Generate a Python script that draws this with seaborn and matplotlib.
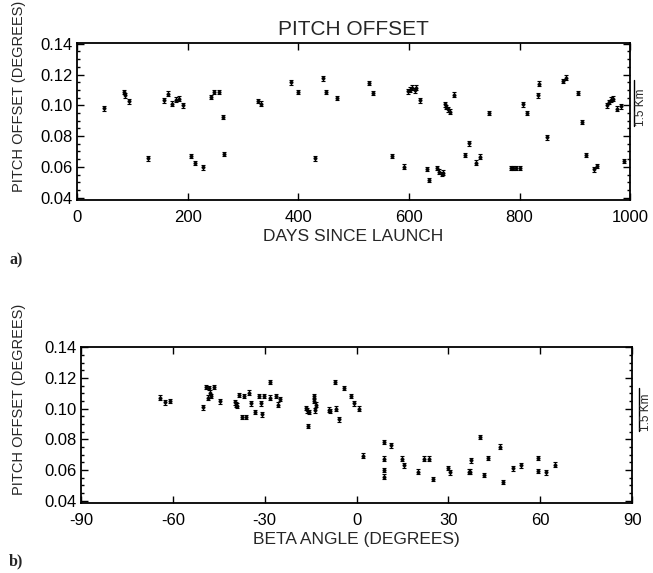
import matplotlib
matplotlib.use("Agg")
import matplotlib.pyplot as plt
import matplotlib.ticker as mticker
import matplotlib.transforms as mtransforms
import seaborn as sns
import pandas as pd

# panel a) pitch offset against days since launch
days_a = [49, 85, 87, 94, 128, 158, 165, 171, 178, 185,
          192, 206, 213, 227, 242, 248, 256, 263, 266, 327,
          333, 386, 400, 430, 445, 451, 470, 528, 535, 570,
          591, 598, 602, 606, 611, 613, 620, 632, 636, 651,
          655, 659, 662, 665, 667, 671, 674, 682, 701, 708,
          721, 729, 744, 785, 789, 794, 800, 807, 814, 833,
          836, 850, 878, 884, 905, 913, 920, 934, 940, 958,
          961, 965, 969, 976, 984, 989]
pitch_a = [0.098, 0.1086, 0.1065, 0.1026, 0.0656, 0.1032, 0.1075, 0.1011, 0.1037, 0.1043,
           0.100, 0.0671, 0.0624, 0.0598, 0.1054, 0.1086, 0.1086, 0.0925, 0.0684, 0.1028,
           0.1011, 0.115, 0.1086, 0.0656, 0.1176, 0.1086, 0.1047, 0.1144, 0.1079, 0.0671,
           0.0602, 0.109, 0.1101, 0.1114, 0.1097, 0.1114, 0.1032, 0.0587, 0.0516, 0.0592,
           0.057, 0.0555, 0.0563, 0.1006, 0.0989, 0.0974, 0.0959, 0.1069, 0.0677, 0.0753,
           0.0628, 0.0666, 0.095, 0.0592, 0.0592, 0.0592, 0.0592, 0.1006, 0.095, 0.1065,
           0.114, 0.0792, 0.1157, 0.1179, 0.1079, 0.0892, 0.0677, 0.0585, 0.0606, 0.100,
           0.1021, 0.1037, 0.1043, 0.0979, 0.0994, 0.0639]

# panel b) pitch offset against beta angle
beta_b = [-64.3, -62.4, -60.8, -50.1, -49.1, -48.4, -48.1, -47.8, -47.5, -46.4,
          -44.5, -39.6, -39.3, -39.0, -38.4, -37.3, -36.6, -36.0, -35.0, -34.4,
          -33.2, -31.7, -31.2, -30.8, -30.3, -28.2, -28.2, -26.2, -25.8, -25.1,
          -16.4, -16.1, -15.8, -15.6, -14.0, -13.8, -13.7, -13.4, -9.1, -8.6,
          -6.9, -6.6, -5.7, -4.2, -1.8, -0.7, 0.9, 2.1, 9.1, 8.9,
          8.9, 8.9, 11.4, 14.9, 15.4, 20.0, 21.9, 23.6, 25.1, 29.8,
          30.6, 36.6, 37.2, 37.5, 40.2, 41.5, 43.0, 46.7, 47.7, 51.1,
          53.7, 59.2, 59.2, 61.9, 64.7]
pitch_b = [0.1073, 0.1042, 0.1052, 0.101, 0.1141, 0.1073, 0.1136, 0.1105, 0.1084, 0.1141,
           0.1048, 0.1042, 0.1027, 0.1021, 0.109, 0.0947, 0.1084, 0.0947, 0.1105, 0.1035,
           0.0979, 0.1084, 0.1035, 0.0964, 0.1084, 0.1174, 0.1073, 0.1084, 0.1027, 0.1063,
           0.1006, 0.0989, 0.0888, 0.0979, 0.1084, 0.1052, 0.0989, 0.1027, 0.0994, 0.0985,
           0.1174, 0.100, 0.0931, 0.1136, 0.1084, 0.1035, 0.100, 0.0695, 0.0783, 0.0674,
           0.060, 0.0558, 0.0762, 0.0674, 0.0632, 0.059, 0.0674, 0.0674, 0.0543, 0.0615,
           0.0585, 0.059, 0.059, 0.0663, 0.0817, 0.0568, 0.0678, 0.0754, 0.0522, 0.0611,
           0.0632, 0.0678, 0.0594, 0.0585, 0.0636]

err = 0.0015

sns.set_style("ticks")
plt.rcParams["font.family"] = ["Liberation Sans", "DejaVu Sans"]
plt.rcParams["axes.unicode_minus"] = False

df_a = pd.DataFrame({"days": days_a, "pitch": pitch_a})
df_b = pd.DataFrame({"beta": beta_b, "pitch": pitch_b})

fig = plt.figure(figsize=(6.53, 5.73), dpi=100)
ax_a = fig.add_axes([0.118, 0.651, 0.847, 0.274])
ax_b = fig.add_axes([0.124, 0.122, 0.844, 0.273])


def style_axes(ax, xlab_x):
    ax.set_ylim(0.0385, 0.1405)
    ax.yaxis.set_major_locator(mticker.MultipleLocator(0.02))
    ax.yaxis.set_minor_locator(mticker.MultipleLocator(0.005))
    ax.yaxis.set_major_formatter(mticker.FormatStrFormatter("%.2f"))
    ax.tick_params(which="both", direction="in", top=True, right=True,
                   labelsize=12, colors="black", width=1.0)
    ax.tick_params(which="major", length=5)
    ax.tick_params(which="minor", length=2.5)
    ax.tick_params(axis="x", pad=7)
    ax.tick_params(axis="y", pad=3)
    for s in ax.spines.values():
        s.set_linewidth(1.3)
        s.set_color("black")
    ax.set_ylabel("PITCH OFFSET (DEGREES)", fontsize=10.5)
    ax.yaxis.set_label_coords(xlab_x, 0.66)


def draw(ax, df, xcol):
    ax.errorbar(df[xcol], df["pitch"], yerr=err, fmt="none", ecolor="black",
                elinewidth=0.9, capsize=1.3, capthick=0.8)
    sns.scatterplot(data=df, x=xcol, y="pitch", ax=ax, color="black",
                    s=6, marker="o", edgecolor="black", linewidth=0.3)


draw(ax_a, df_a, "days")
ax_a.set_xlim(0, 1000)
ax_a.xaxis.set_major_locator(mticker.MultipleLocator(200))
style_axes(ax_a, -0.092)
ax_a.set_xlabel("DAYS SINCE LAUNCH", fontsize=12.5, labelpad=3)
ax_a.set_title("PITCH OFFSET", fontsize=15, pad=6)

draw(ax_b, df_b, "beta")
ax_b.set_xlim(-90, 90)
ax_b.xaxis.set_major_locator(mticker.MultipleLocator(30))
style_axes(ax_b, -0.099)
ax_b.set_xlabel("BETA ANGLE (DEGREES)", fontsize=12.5, labelpad=3)

# 1.5 Km scale bars at the right edge
for ax, xl, xt, y0, y1, yt in [(ax_a, 1.007, 1.020, 0.0866, 0.1166, 0.0987),
                               (ax_b, 1.012, 1.025, 0.0852, 0.1136, 0.0975)]:
    tr = mtransforms.blended_transform_factory(ax.transAxes, ax.transData)
    ax.plot([xl, xl], [y0, y1], color="black", lw=1.0, transform=tr, clip_on=False)
    ax.text(xt, yt, "1.5 Km", rotation=90, transform=tr, fontsize=8.5,
            ha="center", va="center")

fig.text(0.014, 0.539, "a)", fontsize=11.5, fontweight="bold",
         family=["Liberation Serif", "DejaVu Serif"])
fig.text(0.014, 0.014, "b)", fontsize=11.5, fontweight="bold",
         family=["Liberation Serif", "DejaVu Serif"])

fig.savefig("out.png", dpi=100, facecolor="white")
